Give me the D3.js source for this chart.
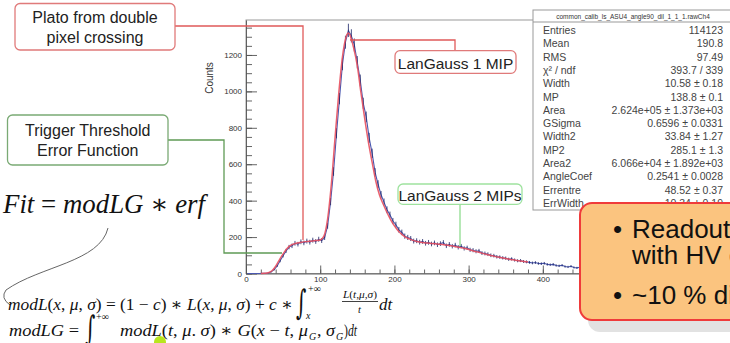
<!DOCTYPE html>
<html>
<head>
<meta charset="utf-8">
<script src="https://cdn.jsdelivr.net/npm/d3@7"></script>
<style>
  body { margin: 0; background: #fff; }
  svg { display: block; font-family: "Liberation Sans", Arial, sans-serif; }
</style>
</head>
<body>
<script>
// histogram: bin start every 4 units from 0
var histStart = 0, histStep = 4;
var histCounts = [0, 0, 0, 0, 0, 1, 1, 3, 9, 22, 42, 70, 98, 124, 145, 152, 166, 161, 174, 168,
  178, 172, 183, 176, 188, 181, 198, 262, 395, 560, 770, 960, 1150, 1270, 1335, 1305, 1255, 1160,
  1060, 935, 860, 745, 660, 555, 490, 432, 392, 350, 322, 288, 268, 240, 226, 205, 198, 192, 178,
  180, 172, 176, 166, 171, 162, 168, 158, 164, 170, 152, 160, 150, 156, 144, 150, 138, 141, 130,
  128, 122, 124, 112, 110, 106, 100, 98, 92, 90, 86, 84, 78, 80, 74, 70, 71, 66, 64, 61, 58, 60,
  55, 54, 56, 50, 48, 50, 44, 42, 45, 38, 36, 40, 33, 31, 34];

// fit curve (x, counts)
var fitX = [20, 25, 30, 35, 40, 45, 50, 55, 60, 65, 70, 75, 80, 85, 90, 95, 100, 105, 110, 115, 120,
  125, 130, 135, 138, 140, 145, 150, 155, 160, 165, 170, 175, 180, 185, 190, 195, 200, 205, 210, 215,
  220, 225, 230, 235, 240, 245, 250, 255, 260, 265, 270, 275, 280, 285, 290, 295, 300, 305, 310, 315,
  320, 325, 330, 335, 340, 345, 350, 355, 360, 365, 370, 375, 380];
var fitY = [0, 1, 4, 15, 40, 75, 108, 136, 154, 163, 168, 172, 175, 177, 179, 181, 184, 205, 300, 490,
  745, 990, 1190, 1300, 1320, 1310, 1240, 1140, 990, 850, 720, 610, 505, 430, 380, 335, 295, 262, 235,
  215, 200, 190, 182, 176, 172, 169, 167, 165, 163, 161, 159, 156, 153, 150, 146, 142, 137, 132, 126,
  120, 115, 109, 104, 99, 94, 90, 86, 82, 78, 75, 72, 69, 66, 63];

var xTicks = [0, 100, 200, 300, 400, 500];
var yTicks = [0, 200, 400, 600, 800, 1000, 1200];

var statsTitle = "common_calib_ls_ASU4_angle90_dil_1_1_1.rawCh4";
var statNames = ["Entries", "Mean", "RMS", "χ² / ndf", "Width", "MP", "Area", "GSigma", "Width2",
  "MP2", "Area2", "AngleCoef", "Errentre", "ErrWidth"];
var statValues = ["114123", "190.8", "97.49", "393.7 / 339", "10.58 ± 0.18", "138.8 ± 0.1",
  "2.624e+05 ± 1.373e+03", "0.6596 ± 0.0331", "33.84 ± 1.27", "285.1 ± 1.3",
  "6.066e+04 ± 1.892e+03", "0.2541 ± 0.0028", "48.52 ± 0.37", "10.34 ± 0.19"];

var W = 730, H = 343;
var svg = d3.select("body").append("svg").attr("width", W).attr("height", H);

var x = d3.scaleLinear().domain([0, 540]).range([246, 646.7]);
var y = d3.scaleLinear().domain([0, 1392]).range([273.5, 20]);

// frame
svg.append("rect").attr("x", 246).attr("y", 20).attr("width", 400.7).attr("height", 253.5)
  .attr("fill", "#fff").attr("stroke", "#999").attr("stroke-width", 1);

// axes
var gy = svg.append("g").attr("transform", "translate(246,0)");
gy.call(d3.axisLeft(y).tickValues(yTicks).tickFormat(d3.format("d"))
  .tickSize(-11).tickSizeOuter(0).tickPadding(4));
gy.append("g").call(d3.axisLeft(y).tickValues(d3.range(0, 1392, 50)).tickSize(-6).tickFormat(""))
  .select(".domain").remove();
var gx = svg.append("g").attr("transform", "translate(0,273.5)");
gx.call(d3.axisBottom(x).tickValues(xTicks).tickFormat(d3.format("d"))
  .tickSize(-8).tickSizeOuter(0).tickPadding(3));
gx.append("g").call(d3.axisBottom(x).tickValues(d3.range(0, 540, 20)).tickSize(-4).tickFormat(""))
  .select(".domain").remove();
svg.selectAll(".tick line, .domain").attr("stroke", "#555").attr("stroke-width", 0.9);
svg.selectAll(".tick text").attr("font-size", 8).attr("fill", "#333")
  .attr("font-family", "Liberation Sans, Arial, sans-serif");

svg.append("text").attr("transform", "translate(213,78) rotate(-90)")
  .attr("text-anchor", "middle").attr("font-size", 10).attr("fill", "#333").text("Counts");

// histogram
var hist = histCounts.map(function (c, i) { return { x: histStart + histStep * (i + 0.5), c: c }; });
svg.append("path").datum(hist)
  .attr("d", d3.line().x(function (d) { return x(d.x); }).y(function (d) { return y(d.c); }))
  .attr("fill", "none").attr("stroke", "#4a58b0").attr("stroke-width", 1.1);
svg.selectAll("line.err").data(hist.filter(function (d) { return d.c > 0; })).enter()
  .append("line").attr("class", "err")
  .attr("x1", function (d) { return x(d.x); }).attr("x2", function (d) { return x(d.x); })
  .attr("y1", function (d) { return y(d.c + Math.sqrt(d.c)); })
  .attr("y2", function (d) { return y(d.c - Math.sqrt(d.c)); })
  .attr("stroke", "#1c2466").attr("stroke-width", 0.8);

// fit
svg.append("path").datum(d3.zip(fitX, fitY))
  .attr("d", d3.line().curve(d3.curveMonotoneX)
    .x(function (d) { return x(d[0]); }).y(function (d) { return y(d[1]); }))
  .attr("fill", "none").attr("stroke", "#e8505e").attr("stroke-width", 1.5).attr("opacity", 0.9);

// annotation boxes + connectors
function box(bx, by, bw, bh, stroke, lines, size, baselines) {
  svg.append("rect").attr("x", bx).attr("y", by).attr("width", bw).attr("height", bh)
    .attr("rx", 5).attr("fill", "#fff").attr("stroke", stroke).attr("stroke-width", 1.3);
  lines.forEach(function (t, i) {
    svg.append("text").attr("x", bx + bw / 2).attr("y", baselines[i]).attr("text-anchor", "middle")
      .attr("font-size", size).attr("fill", "#222").text(t);
  });
}
svg.append("path").attr("d", "M175,26H303V240").attr("fill", "none")
  .attr("stroke", "#e05a5a").attr("stroke-width", 1.3);
svg.append("path").attr("d", "M168,140H224V253H282").attr("fill", "none")
  .attr("stroke", "#5f9a55").attr("stroke-width", 1.3);
svg.append("path").attr("d", "M350,40H455V51").attr("fill", "none")
  .attr("stroke", "#e05a5a").attr("stroke-width", 1.3);
svg.append("path").attr("d", "M460,204V246").attr("fill", "none")
  .attr("stroke", "#8fdc8f").attr("stroke-width", 1.3);

box(15, 3.5, 160, 46.5, "#e07a7a", ["Plato from double", "pixel crossing"], 16, [23, 43]);
box(7.5, 115, 160.5, 50, "#7aaa74", ["Trigger Threshold", "Error Function"], 16, [136, 156]);
box(395, 50.7, 121, 22.6, "#e07a7a", ["LanGauss 1 MIP"], 15.5, [69]);
box(398, 184, 124, 20.3, "#9ee29e", ["LanGauss 2 MIPs"], 15.5, [201]);

// stats box
svg.append("rect").attr("x", 533).attr("y", 10).attr("width", 200).attr("height", 200)
  .attr("fill", "#fff").attr("stroke", "#999").attr("stroke-width", 1);
svg.append("line").attr("x1", 533).attr("x2", 733).attr("y1", 22).attr("y2", 22)
  .attr("stroke", "#999");
svg.append("text").attr("x", 633).attr("y", 18.5).attr("text-anchor", "middle")
  .attr("font-size", 6.5).attr("fill", "#333").text(statsTitle);
statNames.forEach(function (n, i) {
  var yy = 34 + i * 13.3;
  svg.append("text").attr("x", 543).attr("y", yy).attr("font-size", 10.5).attr("fill", "#444").text(n);
  svg.append("text").attr("x", 723).attr("y", yy).attr("text-anchor", "end")
    .attr("font-size", 10.5).attr("fill", "#444").text(statValues[i]);
});

// formulas
function mathText(tx, ty, size, parts, len, fam) {
  var t = svg.append("text").attr("x", tx).attr("y", ty).attr("font-size", size)
    .attr("font-family", fam || "Liberation Serif, DejaVu Serif, serif").attr("fill", "#111");
  parts.forEach(function (p) {
    t.append("tspan").attr("font-style", p[1] ? "italic" : "normal").text(p[0]);
  });
  if (len) t.attr("textLength", len).attr("lengthAdjust", "spacingAndGlyphs");
  return t;
}
function integral(tx, ty) {
  svg.append("text").attr("transform", "translate(" + tx + "," + ty + ") scale(1,1.7)")
    .attr("font-size", 20).attr("font-family", "DejaVu Serif, serif").attr("fill", "#111").text("∫");
}
mathText(3, 213, 27, [["Fit", 1], [" = ", 0], ["modLG", 1], [" ∗ ", 0], ["erf", 1]], 202);
svg.append("path").attr("d", "M108,228C100,262 40,266 6,290Q0,298 10,305")
  .attr("fill", "none").attr("stroke", "#666").attr("stroke-width", 1);

mathText(8, 310, 17, [["modL", 1], ["(", 0], ["x", 1], [", ", 0], ["μ", 1], [", ", 0], ["σ", 1],
  [") = (1 − ", 0], ["c", 1], [") ∗ ", 0], ["L", 1], ["(", 0], ["x", 1], [", ", 0], ["μ", 1],
  [", ", 0], ["σ", 1], [") + ", 0], ["c", 1], [" ∗", 0]], 285);
integral(296, 314);
mathText(308, 292, 10, [["+∞", 0]]);
mathText(306, 319, 10, [["x", 1]]);
mathText(343, 298, 10.5, [["L", 1], ["(", 0], ["t", 1], [",", 0], ["μ", 1], [",", 0], ["σ", 1], [")", 0]], 34);
svg.append("line").attr("x1", 342).attr("x2", 378).attr("y1", 301.5).attr("y2", 301.5)
  .attr("stroke", "#111").attr("stroke-width", 0.8);
mathText(358, 313, 10.5, [["t", 1]]);
mathText(379, 310, 17, [["dt", 1]]);

mathText(9, 336, 17, [["modLG", 1], [" =", 0]], 70);
integral(85, 340);
mathText(96, 320, 10, [["+∞", 0]]);
mathText(94, 348, 10, [["−∞", 0]]);
mathText(120, 336, 17, [["modL", 1], ["(", 0], ["t", 1], [", ", 0], ["μ", 1], [". ", 0], ["σ", 1],
  [") ∗ ", 0], ["G", 1], ["(", 0], ["x", 1], [" − ", 0], ["t", 1], [", ", 0], ["μ", 1]], 188);
mathText(309, 340, 10, [["G", 1]]);
mathText(317, 336, 17, [[", ", 0], ["σ", 1]], 18);
mathText(336, 340, 10, [["G", 1]]);
mathText(344, 336, 17, [[")", 0], ["dt", 1]], 13);

svg.append("circle").attr("cx", 160).attr("cy", 342).attr("r", 6).attr("fill", "#b8e61e");

// orange callout
svg.append("rect").attr("x", 588).attr("y", 212).attr("width", 170).attr("height", 120).attr("rx", 12)
  .attr("fill", "#e2e2e2");
svg.append("rect").attr("x", 580).attr("y", 203).attr("width", 170).attr("height", 117).attr("rx", 12)
  .attr("fill", "#fbc47f").attr("stroke", "#ef3b3b").attr("stroke-width", 2);
var calloutLines = [["•", "Readout", 238], ["", "with HV c", 264], ["•", "~10 % dispersion", 304]];
calloutLines.forEach(function (l) {
  if (l[0]) svg.append("text").attr("x", 613).attr("y", l[2]).attr("font-size", 26).attr("fill", "#111").text(l[0]);
  svg.append("text").attr("x", 632).attr("y", l[2]).attr("font-size", 26).attr("fill", "#111").text(l[1]);
});
</script>
</body>
</html>
